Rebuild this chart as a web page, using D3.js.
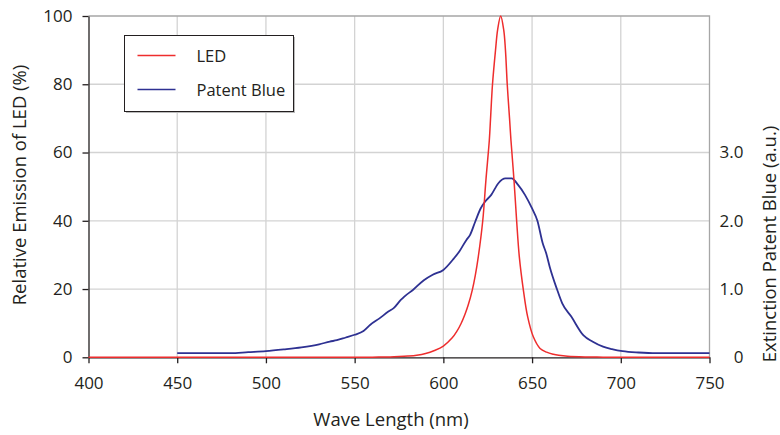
<!doctype html>
<html lang="en">
<head>
  <meta charset="utf-8">
  <style>
    body { margin: 0; background: #fff; }
    svg text { font-family: "Open Sans", sans-serif; fill: #231f20; }
  </style>
</head>
<body>
  <script src="https://d3js.org/d3.v7.min.js"></script>
  <div id="chart"></div>
  <script>
    // LED emission, % of peak
    var ledWave = [400, 500, 550, 560, 570, 575, 580, 585, 590, 595, 600, 605, 607.5, 610, 612.2, 614, 616.3, 618, 619.7, 622.2, 624, 625.9, 626.6, 627.7, 629.4, 630.6, 632.3, 634, 635, 636, 637.3, 638.1, 639.8, 641.3, 642.8, 645.1, 647.5, 650.7, 654.5, 658.2, 662, 665, 670, 680, 690, 700, 750];
    var ledValue = [0, 0, 0, 0.05, 0.1, 0.2, 0.35, 0.6, 1.1, 2.0, 3.3, 5.7, 7.5, 9.9, 12.6, 15.3, 19.7, 24, 29.5, 40, 52, 63.6, 70, 80, 90, 96, 100, 96, 90, 80, 70, 63.6, 52, 40, 29.5, 19.7, 11.9, 6, 2.6, 1.5, 0.9, 0.6, 0.3, 0.1, 0.05, 0, 0];

    // Patent Blue extinction, a.u.
    var blueWave = [450, 460, 470, 480, 490, 500, 510, 520, 530, 536, 540, 545, 550, 555, 559, 564, 569, 572, 576, 578, 583, 589, 594, 600, 606, 609, 613, 615, 618, 621, 623.5, 627, 631, 635, 638.5, 642, 646, 650, 653, 656, 658, 660, 664, 667, 672, 679, 684, 690, 695, 701, 710, 720, 750];
    var blueValue = [0.06, 0.06, 0.06, 0.06, 0.075, 0.09, 0.115, 0.145, 0.19, 0.23, 0.25, 0.29, 0.33, 0.385, 0.48, 0.57, 0.67, 0.72, 0.84, 0.89, 0.99, 1.13, 1.21, 1.28, 1.45, 1.55, 1.72, 1.79, 1.99, 2.18, 2.28, 2.38, 2.55, 2.62, 2.62, 2.53, 2.38, 2.18, 2.0, 1.67, 1.52, 1.32, 1.0, 0.79, 0.6, 0.32, 0.23, 0.155, 0.12, 0.09, 0.07, 0.06, 0.06];

    var xTicks = [400, 450, 500, 550, 600, 650, 700, 750];
    var yTicks = [0, 20, 40, 60, 80, 100];
    var y2Ticks = [0, 1, 2, 3];
    var seriesNames = ["LED", "Patent Blue"];
    var seriesColors = ["#ee2d2d", "#2e3192"];

    var width = 780, height = 435;
    var margin = {top: 16, left: 88.5};
    var pw = 709.5 - margin.left, ph = 357.3 - margin.top;

    var svg = d3.select("#chart").append("svg")
      .attr("width", width).attr("height", height);
    var g = svg.append("g").attr("transform", "translate(" + margin.left + "," + margin.top + ")");

    var x = d3.scaleLinear().domain([400, 750]).range([0, pw]);
    var y = d3.scaleLinear().domain([0, 100]).range([ph, 0]);
    var y2 = d3.scaleLinear().domain([0, 5]).range([ph, 0]);

    // grid
    g.append("g").selectAll("line").data(xTicks.slice(1, -1)).enter().append("line")
      .attr("x1", d => x(d)).attr("x2", d => x(d)).attr("y1", 0).attr("y2", ph)
      .attr("stroke", "#d3d3d3").attr("stroke-width", 1.3);
    g.append("g").selectAll("line").data(yTicks.slice(1, -1)).enter().append("line")
      .attr("x1", 0).attr("x2", pw).attr("y1", d => y(d)).attr("y2", d => y(d))
      .attr("stroke", "#d3d3d3").attr("stroke-width", 1.3);
    // top and right border
    g.append("path").attr("d", "M0,0H" + pw + "V" + ph)
      .attr("fill", "none").attr("stroke", "#a6a6a6").attr("stroke-width", 1.3);

    // axes
    var xAxis = g.append("g").attr("transform", "translate(0," + ph + ")")
      .call(d3.axisBottom(x).tickValues(xTicks).tickSize(6).tickPadding(14).tickSizeOuter(0));
    var yAxis = g.append("g")
      .call(d3.axisLeft(y).tickValues(yTicks).tickSize(6).tickPadding(10).tickSizeOuter(0));
    [xAxis, yAxis].forEach(function(a) {
      a.select(".domain").attr("stroke", "#231f20").attr("stroke-width", 1.3);
      a.selectAll(".tick line").attr("stroke", "#231f20").attr("stroke-width", 1.3);
      a.selectAll("text").attr("font-size", 17).attr("font-family", "Open Sans").attr("fill", "#231f20");
    });
    var y2Axis = g.append("g").attr("transform", "translate(" + pw + ",0)")
      .call(d3.axisRight(y2).tickValues(y2Ticks).tickSize(0).tickPadding(34)
        .tickFormat(d => d === 0 ? "0" : d3.format(".1f")(d)));
    y2Axis.select(".domain").remove();
    y2Axis.selectAll("text").attr("font-size", 17).attr("font-family", "Open Sans")
      .attr("fill", "#231f20").attr("text-anchor", "end");

    // lines
    var ledData = ledWave.map((w, i) => [w, ledValue[i]]);
    var blueData = blueWave.map((w, i) => [w, blueValue[i]]);
    var ledLine = d3.line().x(d => x(d[0])).y(d => y(Math.max(0, d[1]))).curve(d3.curveCatmullRom.alpha(0.5));
    var blueLine = d3.line().x(d => x(d[0])).y(d => y2(d[1])).curve(d3.curveMonotoneX);

    g.append("path").datum(blueData).attr("d", blueLine)
      .attr("fill", "none").attr("stroke", seriesColors[1]).attr("stroke-width", 1.8);
    g.append("path").datum(ledData).attr("d", ledLine)
      .attr("fill", "none").attr("stroke", seriesColors[0]).attr("stroke-width", 1.5);

    // axis titles
    svg.append("text").attr("x", 391).attr("y", 426)
      .attr("text-anchor", "middle").attr("font-size", 18.5).text("Wave Length (nm)");
    svg.append("text").attr("transform", "translate(26,185) rotate(-90)")
      .attr("text-anchor", "middle").attr("font-size", 18.5).text("Relative Emission of LED (%)");
    svg.append("text").attr("transform", "translate(776,244) rotate(-90)")
      .attr("text-anchor", "middle").attr("font-size", 18.5).text("Extinction Patent Blue (a.u.)");

    // legend
    var lg = svg.append("g").attr("transform", "translate(124.5,35.5)");
    lg.append("rect").attr("x", 1.5).attr("y", 1.5).attr("width", 169).attr("height", 76)
      .attr("fill", "#bbb");
    lg.append("rect").attr("width", 169).attr("height", 76)
      .attr("fill", "#fff").attr("stroke", "#231f20").attr("stroke-width", 1);
    seriesNames.forEach(function(n, i) {
      var yy = 20 + i * 34;
      lg.append("line").attr("x1", 13).attr("x2", 51).attr("y1", yy).attr("y2", yy)
        .attr("stroke", seriesColors[i]).attr("stroke-width", 1.5);
      lg.append("text").attr("x", 72).attr("y", yy + 6).attr("font-size", 16.5).text(n);
    });
  </script>
</body>
</html>
